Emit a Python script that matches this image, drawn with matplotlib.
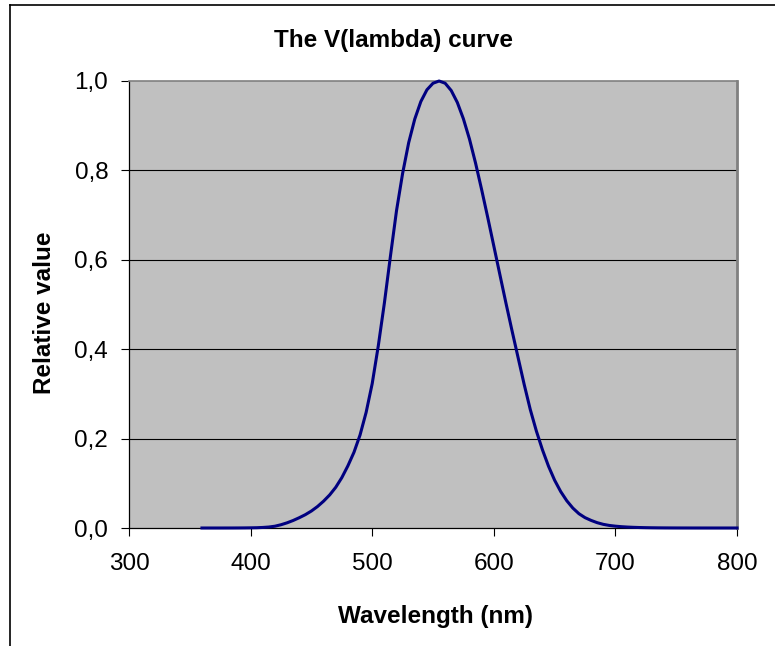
import matplotlib
matplotlib.use("Agg")
import matplotlib.pyplot as plt
from matplotlib.lines import Line2D
from matplotlib.ticker import FuncFormatter

plt.rcParams['font.family'] = ['Liberation Sans', 'DejaVu Sans']

# CIE photopic luminosity values, 5 nm steps
wavelength = list(range(360, 805, 5))
v_lambda = [
    0.0000039, 0.0000070, 0.0000121, 0.0000200, 0.0000390, 0.0000640,
    0.000120, 0.000217, 0.000396, 0.000640, 0.00121, 0.00218,
    0.0040, 0.0073, 0.0116, 0.01684, 0.0230, 0.0298,
    0.0380, 0.0480, 0.0600, 0.0739, 0.09098, 0.1126,
    0.13902, 0.1693, 0.20802, 0.2586, 0.3230, 0.4073,
    0.5030, 0.6082, 0.7100, 0.7932, 0.8620, 0.91485,
    0.9540, 0.9803, 0.99495, 1.0000, 0.9950, 0.9786,
    0.9520, 0.9154, 0.8700, 0.8163, 0.7570, 0.6949,
    0.6310, 0.5668, 0.5030, 0.4412, 0.3810, 0.3210,
    0.2650, 0.2170, 0.1750, 0.1382, 0.1070, 0.0816,
    0.0610, 0.04458, 0.0320, 0.0232, 0.0170, 0.01192,
    0.00821, 0.005723, 0.004102, 0.002929, 0.002091, 0.001484,
    0.001047, 0.00074, 0.00052, 0.000361, 0.000249, 0.000172,
    0.00012, 0.0000848, 0.00006, 0.0000424, 0.00003, 0.0000212,
    0.0000149, 0.0000106, 0.0000075, 0.0000053, 0.0000037,
]
x_ticks = [300, 400, 500, 600, 700, 800]
y_ticks = [0.0, 0.2, 0.4, 0.6, 0.8, 1.0]

W, H = 775, 646
fs = 17.5

fig = plt.figure(figsize=(W / 100, H / 100), dpi=100)
ax = fig.add_axes([129 / W, 1 - 528 / H, 608 / W, 447 / H])
ax.set_facecolor('#c0c0c0')

for y in y_ticks[1:-1]:
    ax.axhline(y, color='black', lw=0.8, zorder=1)

ax.plot(wavelength, v_lambda, color='#000080', lw=2.2, zorder=3, clip_on=False)

ax.set_xlim(300, 800)
ax.set_ylim(0, 1.0)
ax.set_xticks(x_ticks)
ax.set_yticks(y_ticks)
ax.yaxis.set_major_formatter(FuncFormatter(lambda v, p: f"{v:.1f}".replace('.', ',')))
ax.tick_params(direction='out', length=6, width=0.8, labelsize=fs, colors='black')
ax.tick_params(axis='x', pad=12)
ax.tick_params(axis='y', pad=9)

for side in ['left', 'bottom']:
    ax.spines[side].set_color('black')
    ax.spines[side].set_linewidth(0.9)
ax.spines['top'].set_color('#808080')
ax.spines['top'].set_linewidth(1.2)
ax.spines['right'].set_color('#808080')
ax.spines['right'].set_linewidth(2.0)

fig.text(394 / W, 1 - 40 / H, 'The V(lambda) curve', fontsize=fs, fontweight='bold',
         ha='center', va='center')
fig.text(435 / W, 1 - 617 / H, 'Wavelength (nm)', fontsize=fs, fontweight='bold',
         ha='center', va='center')
fig.text(45 / W, 1 - 313 / H, 'Relative value', fontsize=fs, fontweight='bold',
         ha='center', va='center', rotation=90)

# chart border (cropped at right and bottom)
fig.add_artist(Line2D([10 / W, 10 / W], [0, 1 - 4.5 / H], color='black', lw=1.2,
                      transform=fig.transFigure))
fig.add_artist(Line2D([10 / W, 1], [1 - 4.5 / H, 1 - 4.5 / H], color='black', lw=1.2,
                      transform=fig.transFigure))

fig.savefig('out.png', dpi=100)
